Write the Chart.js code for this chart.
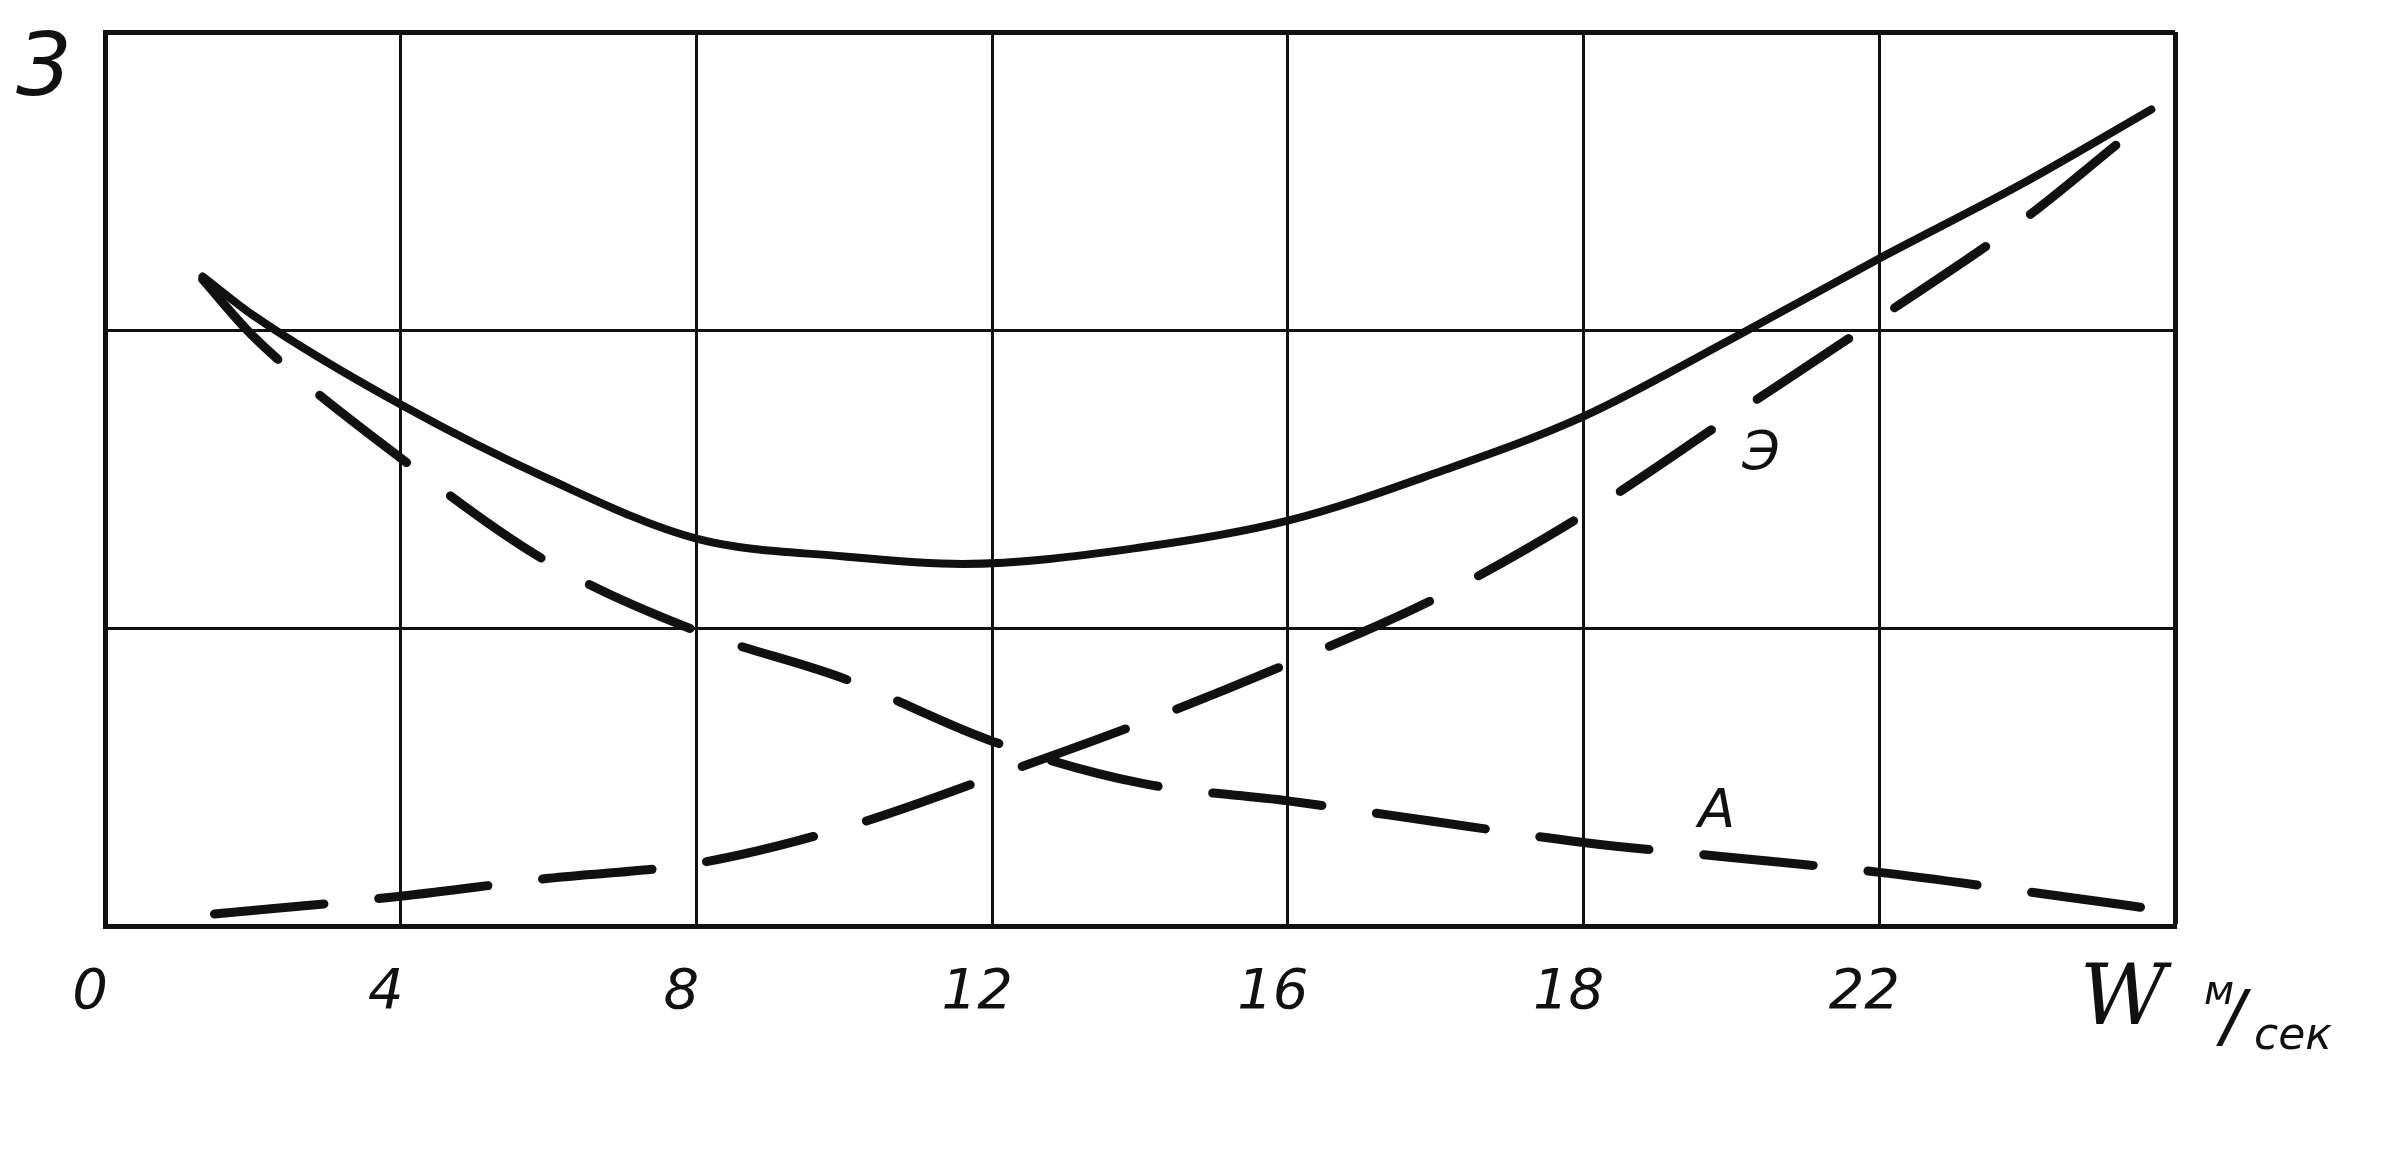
<!DOCTYPE html>
<html>
<head>
<meta charset="utf-8">
<title>W м/сек</title>
<script src="https://cdn.jsdelivr.net/npm/chart.js@4.4.1/dist/chart.umd.min.js"></script>
<style>
  html, body { margin: 0; padding: 0; background: #fff; }
  #wrap { width: 2382px; height: 1154px; position: relative; }
</style>
</head>
<body>
<div id="wrap"><canvas id="lineChart"></canvas></div>
<script>
'use strict';

// x runs in grid steps 0..7, the hand-written speed labels sit on them
var tickLabels = ['0', '4', '8', '12', '16', '18', '22', ''];

// solid curve (total)
var sumX = [0.33, 0.5, 1, 1.5, 2, 2.5, 2.9, 3.5, 4, 4.5, 5, 5.5, 6, 6.5, 6.92];
var sumY = [2.18, 2.05, 1.75, 1.50, 1.30, 1.24, 1.215, 1.27, 1.36, 1.52, 1.71, 1.97, 2.24, 2.50, 2.74];

// dashed curve А (falling)
var aX = [0.33, 0.5, 1, 1.5, 2, 2.5, 3, 3.5, 4, 4.5, 5, 5.5, 6, 6.5, 6.98];
var aY = [2.17, 1.98, 1.57, 1.22, 0.99, 0.83, 0.62, 0.48, 0.42, 0.35, 0.28, 0.23, 0.18, 0.115, 0.05];

// dashed curve Э (rising)
var eX = [0.37, 1, 1.5, 2, 2.5, 3, 3.5, 4, 4.5, 5, 5.5, 6, 6.5, 6.8];
var eY = [0.04, 0.10, 0.16, 0.21, 0.33, 0.50, 0.68, 0.88, 1.10, 1.38, 1.71, 2.04, 2.38, 2.62];

function toPoints(xs, ys) {
	var pts = [];
	for (var i = 0; i < xs.length; i++) {
		pts.push({x: xs[i], y: ys[i]});
	}
	return pts;
}

function lineSet(label, xs, ys, dashed) {
	return {
		label: label,
		data: toPoints(xs, ys),
		borderColor: '#111',
		borderWidth: dashed ? 9 : 8,
		borderDash: dashed ? [110, 55] : [],
		borderCapStyle: 'round',
		pointRadius: 0,
		fill: false,
		cubicInterpolationMode: 'monotone'
	};
}

// hand lettering: the "3", curve names and the axis unit
var lettering = {
	id: 'lettering',
	afterDraw: function(chart) {
		var ctx = chart.ctx;
		var x = chart.scales.x;
		var y = chart.scales.y;
		var R = x.right, B = y.bottom;
		ctx.save();
		ctx.fillStyle = '#111';
		ctx.textAlign = 'center';
		ctx.textBaseline = 'middle';

		ctx.font = 'italic 88px "DejaVu Sans"';
		ctx.fillText('3', 44, 72);

		ctx.font = 'italic 54px "DejaVu Sans"';
		ctx.fillText('Э', x.getPixelForValue(5.6), y.getPixelForValue(1.58));
		ctx.fillText('А', x.getPixelForValue(5.45), y.getPixelForValue(0.38));

		ctx.font = 'italic 84px "DejaVu Serif"';
		ctx.fillText('W', R - 52, B + 76);
		ctx.font = 'italic 40px "DejaVu Sans"';
		ctx.fillText('м', R + 44, B + 68);
		ctx.font = 'italic 70px "DejaVu Sans"';
		ctx.fillText('/', R + 58, B + 96);
		ctx.font = 'italic 44px "DejaVu Sans"';
		ctx.fillText('сек', R + 118, B + 112);
		ctx.restore();
	}
};

var chartData = {
	type: 'line',
	data: {
		datasets: [
			lineSet('сумма', sumX, sumY, false),
			lineSet('А', aX, aY, true),
			lineSet('Э', eX, eY, true)
		]
	},
	options: {
		responsive: true,
		maintainAspectRatio: false,
		animation: false,
		layout: {
			padding: {left: 0, right: 207, top: 32, bottom: 0}
		},
		plugins: {
			legend: {display: false},
			tooltip: {enabled: false}
		},
		scales: {
			x: {
				type: 'linear',
				min: 0,
				max: 7,
				afterFit: function(scale) { scale.height = 228; },
				ticks: {
					stepSize: 1,
					color: '#111',
					padding: 34,
					labelOffset: -15,
					maxRotation: 0,
					font: {family: '"DejaVu Sans"', style: 'italic', size: 56},
					callback: function(value) { return tickLabels[value]; }
				},
				grid: {
					color: '#111',
					drawTicks: false,
					lineWidth: function(c) { return c.tick && c.tick.value === 7 ? 5 : 3; }
				},
				border: {color: '#111', width: 5}
			},
			y: {
				type: 'linear',
				min: 0,
				max: 3,
				afterFit: function(scale) { scale.width = 105; },
				ticks: {
					stepSize: 1,
					display: false
				},
				grid: {
					color: '#111',
					drawTicks: false,
					lineWidth: function(c) { return c.tick && c.tick.value === 3 ? 5 : 3; }
				},
				border: {color: '#111', width: 5}
			}
		}
	},
	plugins: [lettering]
};

new Chart(document.getElementById('lineChart'), chartData);
</script>
</body>
</html>
